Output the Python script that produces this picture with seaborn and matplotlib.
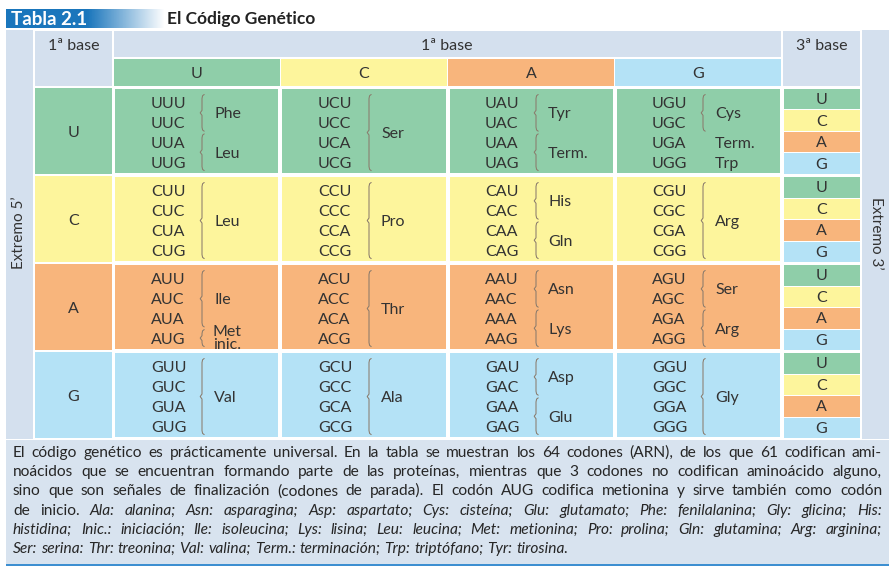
import numpy as np
import matplotlib
matplotlib.use("Agg")
import matplotlib.pyplot as plt
from matplotlib.colors import ListedColormap, to_rgb
from matplotlib.patches import Rectangle
import seaborn as sns

# ──────────────────────────────────────────
# Data
# ──────────────────────────────────────────
first_base = ["U", "C", "A", "G"]
second_base = ["U", "C", "A", "G"]
third_base = ["U", "C", "A", "G"]
base_colors = ["#8fcea9", "#fdf59c", "#f8b57c", "#b4e2f6"]

# per cell: (amino acid, first codon, last codon, brace)
amino_groups = [
    [[("Phe", 0, 1, True), ("Leu", 2, 3, True)],
     [("Ser", 0, 3, True)],
     [("Tyr", 0, 1, True), ("Term.", 2, 3, True)],
     [("Cys", 0, 1, True), ("Term.", 2, 2, False), ("Trp", 3, 3, False)]],
    [[("Leu", 0, 3, True)],
     [("Pro", 0, 3, True)],
     [("His", 0, 1, True), ("Gln", 2, 3, True)],
     [("Arg", 0, 3, True)]],
    [[("Ile", 0, 2, True), ("Met\ninic.", 3, 3, True)],
     [("Thr", 0, 3, True)],
     [("Asn", 0, 1, True), ("Lys", 2, 3, True)],
     [("Ser", 0, 1, True), ("Arg", 2, 3, True)]],
    [[("Val", 0, 3, True)],
     [("Ala", 0, 3, True)],
     [("Asp", 0, 1, True), ("Glu", 2, 3, True)],
     [("Gly", 0, 3, True)]],
]

title_tag = "Tabla 2.1"
title_text = "El Código Genético"
header_first = "1ª base"
header_second = "1ª base"
header_third = "3ª base"
left_label = "Extremo 5’"
right_label = "Extremo 3’"

caption_lines = [
    "El código genético es prácticamente universal. En la tabla se muestran los 64 codones (ARN), de los que 61 codifican ami-",
    "noácidos que se encuentran formando parte de las proteínas, mientras que 3 codones no codifican aminoácido alguno,",
    "sino que son señales de finalización (codones de parada). El codón AUG codifica metionina y sirve también como codón",
    "de inicio. Ala: alanina; Asn: asparagina; Asp: aspartato; Cys: cisteína; Glu: glutamato; Phe: fenilalanina; Gly: glicina; His:",
    "histidina; Inic.: iniciación; Ile: isoleucina; Lys: lisina; Leu: leucina; Met: metionina; Pro: prolina; Gln: glutamina; Arg: arginina;",
    "Ser: serina: Thr: treonina; Val: valina; Term.: terminación; Trp: triptófano; Tyr: tirosina.",
]
italic_from = [None, None, None, 2, 0, 0]   # first italic word of each line

# ──────────────────────────────────────────
# Setup
# ──────────────────────────────────────────
sns.set_style("white")
plt.rcParams["font.family"] = ["Lato", "DejaVu Sans"]

W, H = 891, 571
fig = plt.figure(figsize=(W / 100, H / 100), dpi=100)
fig.patch.set_facecolor("white")

TXT = "#333333"
HEAD = "#d4e0ee"
BRACE = "#8a7b6c"
FS = 11.5


def pixel_axes(zorder):
    ax = fig.add_axes([0, 0, 1, 1], zorder=zorder)
    ax.set_xlim(0, W)
    ax.set_ylim(H, 0)
    ax.set_axis_off()
    ax.patch.set_alpha(0)
    return ax


def box_axes(x0, y0, x1, y1, zorder=1):
    return fig.add_axes([x0 / W, 1 - y1 / H, (x1 - x0) / W, (y1 - y0) / H], zorder=zorder)


bg = pixel_axes(0)
top = pixel_axes(5)

# layout (pixels)
col_x = [114, 281, 448, 615]
col_w = 166
row_y = [88, 176, 264, 352]
row_h = 86

# ── title bar ──
grad = np.zeros((1, 200, 4))
grad[..., :3] = to_rgb("#1a76bc")
xs = np.linspace(6, 165, 200)
grad[0, :, 3] = np.clip((165 - xs) / (165 - 88), 0, 1)
bg.imshow(grad, extent=(6, 165, 28, 9), aspect="auto", interpolation="bilinear")
bg.set_xlim(0, W)
bg.set_ylim(H, 0)
top.text(11, 25, title_tag, fontsize=13.5, fontweight="bold", color="white", ha="left", va="baseline")
top.text(167, 24, title_text, fontsize=12.5, fontweight="bold", color="#222222", ha="left", va="baseline")

# ── header / side blocks ──
for (x0, y0, x1, y1) in [(6, 30, 33, 439), (862, 30, 889, 439), (35, 31, 112, 86),
                         (114, 31, 781, 57), (783, 31, 860, 86)]:
    bg.add_patch(Rectangle((x0, y0), x1 - x0, y1 - y0, facecolor=HEAD, edgecolor="none"))

top.text(73.5, 50, header_first, fontsize=FS, color=TXT, ha="center", va="baseline")
top.text(447, 50, header_second, fontsize=FS, color=TXT, ha="center", va="baseline")
top.text(821.5, 50, header_third, fontsize=FS, color=TXT, ha="center", va="baseline")
top.text(19.5, 233, left_label, fontsize=11, color=TXT, rotation=90, ha="center", va="center")
top.text(875.5, 233, right_label, fontsize=11, color=TXT, rotation=270, ha="center", va="center")

# second base header
for j, b in enumerate(second_base):
    bg.add_patch(Rectangle((col_x[j], 59), col_w, 27, facecolor=base_colors[j], edgecolor="none"))
    top.text(col_x[j] + col_w / 2, 78, b, fontsize=FS, color=TXT, ha="center", va="baseline")

# first base row labels
for i, b in enumerate(first_base):
    bg.add_patch(Rectangle((35, row_y[i]), 77, row_h, facecolor=base_colors[i], edgecolor="none"))
    top.text(73.5, row_y[i] + 49, b, fontsize=FS, color=TXT, ha="center", va="baseline")

# ── body: heatmap coloured by first base ──
cmap = ListedColormap(base_colors)
body = np.array([[i] * len(second_base) for i in range(len(first_base))])
hax = box_axes(113, 87, 782, 439)
sns.heatmap(body, ax=hax, cmap=cmap, vmin=-0.5, vmax=3.5, cbar=False,
            linewidths=1.45, linecolor="white", xticklabels=False, yticklabels=False)
hax.set_axis_off()

# third base column, one small heatmap per row
third = np.arange(len(third_base)).reshape(-1, 1)
for i in range(len(first_base)):
    tax = box_axes(783, row_y[i], 860, row_y[i] + row_h)
    sns.heatmap(third, ax=tax, cmap=cmap, vmin=-0.5, vmax=3.5, cbar=False,
                linewidths=0.55, linecolor="white", xticklabels=False, yticklabels=False)
    tax.set_axis_off()
    sub_h = row_h / 4
    for k, b in enumerate(third_base):
        top.text(821.5, row_y[i] + sub_h * (k + 0.5) + 5.5, b, fontsize=FS, color=TXT,
                 ha="center", va="baseline")


def draw_brace(ax, x, y0, y1):
    mid = (y0 + y1) / 2
    bx = [x + 2.2, x + 0.6, x, x, x - 1.8, x, x, x + 0.6, x + 2.2]
    by = [y0, y0 + 1.2, y0 + 4, mid - 2.5, mid, mid + 2.5, y1 - 4, y1 - 1.2, y1]
    ax.plot(bx, by, color=BRACE, lw=0.75, solid_capstyle="round", solid_joinstyle="round")


# codons and amino acids
step = 19.7
for i, b1 in enumerate(first_base):
    for j, b2 in enumerate(second_base):
        base_lines = [row_y[i] + 20.5 + step * k for k in range(4)]
        for k, b3 in enumerate(third_base):
            top.text(col_x[j] + 37, base_lines[k], b1 + b2 + b3, fontsize=FS, color=TXT,
                     ha="left", va="baseline")
        for name, a, z, brace in amino_groups[i][j]:
            if brace:
                draw_brace(top, col_x[j] + 88, base_lines[a] - 14, base_lines[z] + 3)
            if "\n" in name:
                l1, l2 = name.split("\n")
                top.text(col_x[j] + 99, base_lines[a] - 8, l1, fontsize=FS, color=TXT, ha="left", va="baseline")
                top.text(col_x[j] + 99, base_lines[a] + 5, l2, fontsize=FS, color=TXT, ha="left", va="baseline")
            else:
                yb = (base_lines[a] + base_lines[z]) / 2
                top.text(col_x[j] + 100, yb, name, fontsize=FS, color=TXT, ha="left", va="baseline")

# ── caption ──
bg.add_patch(Rectangle((6, 440), 883, 124, facecolor="#d8e3ef", edgecolor="none"))
bg.add_patch(Rectangle((6, 564), 883, 2.2, facecolor="#3d8fd1", edgecolor="none"))

renderer = fig.canvas.get_renderer()


def word_width(word, size, style):
    t = top.text(0, 0, word, fontsize=size, style=style)
    w = t.get_window_extent(renderer).width
    t.remove()
    return w


X0, X1 = 13, 882
cap_size = 11.2
line_words = []
for n, line in enumerate(caption_lines):
    words = line.split(" ")
    styles = ["italic" if italic_from[n] is not None and k >= italic_from[n] else "normal"
              for k in range(len(words))]
    line_words.append((words, styles))

# shrink font if a justified line would not fit
while cap_size > 8:
    ok = True
    for n, (words, styles) in enumerate(line_words[:-1]):
        tot = sum(word_width(w, cap_size, s) for w, s in zip(words, styles))
        if (X1 - X0 - tot) / (len(words) - 1) < 3.0:
            ok = False
            break
    if ok:
        break
    cap_size -= 0.1

for n, (words, styles) in enumerate(line_words):
    yb = 457 + 19.2 * n
    widths = [word_width(w, cap_size, s) for w, s in zip(words, styles)]
    if n < len(line_words) - 1:
        gap = (X1 - X0 - sum(widths)) / (len(words) - 1)
    else:
        gap = 0.25 * cap_size * 100 / 72
    x = X0
    for w, s, wd in zip(words, styles, widths):
        top.text(x, yb, w, fontsize=cap_size, style=s, color="#262626", ha="left", va="baseline")
        x += wd + gap

fig.savefig("out.png", dpi=100)
